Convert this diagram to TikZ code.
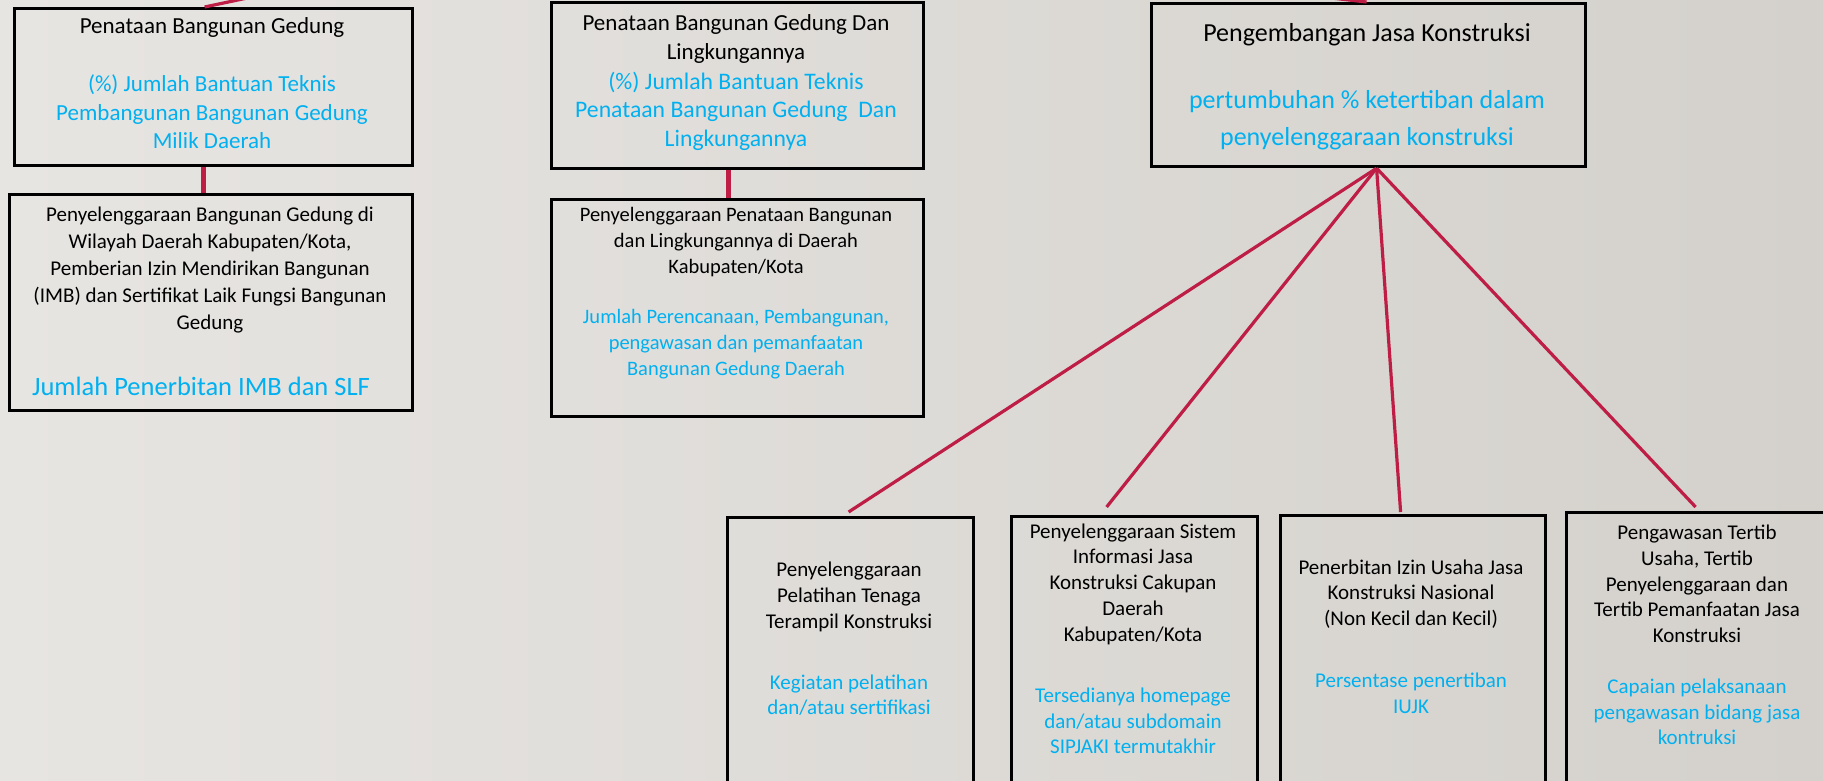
\documentclass[tikz,border=0pt]{standalone}
\usepackage{fontspec}
\setmainfont{Carlito}
\usetikzlibrary{calc}
\definecolor{bgL}{HTML}{E7E5E2}
\definecolor{bgR}{HTML}{D4D1CC}
\definecolor{linkred}{RGB}{190,30,70}
\definecolor{txtblue}{HTML}{00B0F0}
\tikzset{
  box/.style={draw=black, line width=3.2pt, anchor=north west, inner sep=0pt},
  blk/.style={align=center, inner sep=0pt, text=black},
  blu/.style={align=center, inner sep=0pt, text=txtblue},
  link/.style={draw=linkred, line width=3.2pt},
  stem/.style={draw=linkred, line width=5.5pt},
  big/.style={font={\fontsize{23}{28.5}\selectfont}},
  mid/.style={font={\fontsize{21}{25.7}\selectfont}},
  dmid/.style={font={\fontsize{20.5}{26}\selectfont}},
  sml/.style={font={\fontsize{21}{27.2}\selectfont}},
}
\begin{document}
\begin{tikzpicture}[x=1pt,y=-1pt]
\useasboundingbox (0,0) rectangle (1823,781);
\clip (0,0) rectangle (1823,781);
\shade[left color=bgL, right color=bgR] (0,0) rectangle (1823,781);

% boxes
\node[box, minimum width=398pt, minimum height=157pt] (A) at (13,7) {};
\node[box, minimum width=403pt, minimum height=216pt] (B) at (8,193) {};
\node[box, minimum width=372pt, minimum height=166pt] (C) at (550,1) {};
\node[box, minimum width=372pt, minimum height=217pt] (D) at (550,198) {};
\node[box, minimum width=434pt, minimum height=163pt] (E) at (1150,2) {};
\node[box, minimum width=246pt, minimum height=284pt] (F) at (726,516) {};
\node[box, minimum width=246pt, minimum height=285pt] (G) at (1010,515) {};
\node[box, minimum width=265pt, minimum height=286pt] (H) at (1279,514) {};
\node[box, minimum width=270pt, minimum height=289pt] (I) at (1565,511) {};

% connectors
\coordinate (pA) at (271,-7);
\coordinate (pE) at (1305,-5);
\draw[link] ([xshift=-9pt]A.north) -- (pA);
\draw[link] ([xshift=-2pt]E.north) -- (pE);
\draw[stem] ([xshift=-10pt]A.south) -- ([xshift=-10pt]A.south |- B.north);
\draw[stem] ([xshift=-9pt]C.south) -- ([xshift=-9pt]C.south |- D.north);
\draw[link] ([xshift=8pt]E.south) -- ([xshift=-2pt,yshift=4pt]F.north);
\draw[link] ([xshift=8pt]E.south) -- ([xshift=-28pt,yshift=8pt]G.north);
\draw[link] ([xshift=8pt]E.south) -- ([xshift=-12.5pt,yshift=2pt]H.north);
\draw[link] ([xshift=8pt]E.south) -- ([xshift=-6pt,yshift=4pt]I.north);

% texts
\node[blk, big] (At) at (212,27) {Penataan Bangunan Gedung};
\node[blu, big] (Ab) at (212,112) {(\%) Jumlah Bantuan Teknis\\Pembangunan Bangunan Gedung\\Milik Daerah};

\node[blk, sml] (Bt) at (210,270) {Penyelenggaraan Bangunan Gedung di\\Wilayah Daerah Kabupaten/Kota,\\Pemberian Izin Mendirikan Bangunan\\(IMB) dan Sertifikat Laik Fungsi Bangunan\\Gedung};
\node[blu, font={\fontsize{26.5}{30}\selectfont}] (Bb) at (201,386) {Jumlah Penerbitan IMB dan SLF};

\node[blk, big] (Ct) at (736,39) {Penataan Bangunan Gedung Dan\\Lingkungannya};
\node[blu, font={\fontsize{23.7}{28.5}\selectfont}] (Cb) at (736,111) {(\%) Jumlah Bantuan Teknis\\Penataan Bangunan Gedung\ \ Dan\\Lingkungannya};

\node[blk, dmid] (Dt) at (736,242) {Penyelenggaraan Penataan Bangunan\\dan Lingkungannya di Daerah\\Kabupaten/Kota};
\node[blu, dmid] (Db) at (736,344) {Jumlah Perencanaan, Pembangunan,\\pengawasan dan pemanfaatan\\Bangunan Gedung Daerah};

\node[blk, font={\fontsize{26}{30}\selectfont}] (Et) at (1367,35) {Pengembangan Jasa Konstruksi};
\node[blu, font={\fontsize{26}{37}\selectfont}] (Eb) at (1367,120) {pertumbuhan \% ketertiban dalam\\penyelenggaraan konstruksi};

\node[blk, mid] (Ft) at (849,597) {Penyelenggaraan\\Pelatihan Tenaga\\Terampil Konstruksi};
\node[blu, mid] (Fb) at (849,695) {Kegiatan pelatihan\\dan/atau sertifikasi};

\node[blk, mid] (Gt) at (1133,584) {Penyelenggaraan Sistem\\Informasi Jasa\\Konstruksi Cakupan\\Daerah\\Kabupaten/Kota};
\node[blu, mid] (Gb) at (1133,721) {Tersedianya homepage\\dan/atau subdomain\\SIPJAKI termutakhir};

\node[blk, mid] (Ht) at (1411,594) {Penerbitan Izin Usaha Jasa\\Konstruksi Nasional\\(Non Kecil dan Kecil)};
\node[blu, mid] (Hb) at (1411,693) {Persentase penertiban\\IUJK};

\node[blk, mid] (It) at (1697,584) {Pengawasan Tertib\\Usaha, Tertib\\Penyelenggaraan dan\\Tertib Pemanfaatan Jasa\\Konstruksi};
\node[blu, mid] (Ib) at (1697,712) {Capaian pelaksanaan\\pengawasan bidang jasa\\kontruksi};
\end{tikzpicture}
\end{document}
